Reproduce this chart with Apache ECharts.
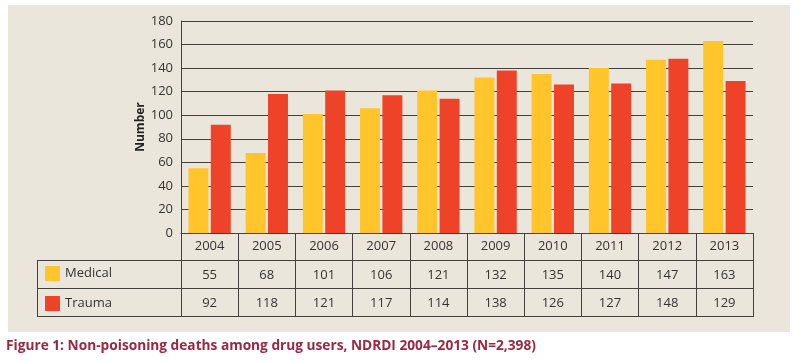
<!DOCTYPE html>
<html><head><meta charset="utf-8">
<script src="https://cdn.jsdelivr.net/npm/echarts@6/dist/echarts.min.js"></script>
<style>html,body{margin:0;padding:0;background:#fff;}#c{width:800px;height:362px;}</style>
</head><body><div id="c"></div>
<script>
const years = ['2004','2005','2006','2007','2008','2009','2010','2011','2012','2013'];
const medical = [55,68,101,106,121,132,135,140,147,163];
const trauma = [92,118,121,117,114,138,126,127,148,129];
const seriesNames = ['Medical','Trauma'];
const yMin = 0, yMax = 180, yStep = 20;
const caption = 'Figure 1: Non-poisoning deaths among drug users, NDRDI 2004–2013 (N=2,398)';

const FONT = '"Open Sans", "Noto Sans", sans-serif';
const LINE = '#43413c';
const chart = echarts.init(document.getElementById('c'), null, {renderer:'canvas'});
const G = {left:181, right:47, top:21, bottom:129};
const rowH = 28;
function tableAxis(data, offset){
  return {type:'category', data:data.map(String), position:'bottom', offset:offset,
    axisLine:{show:false}, axisTick:{show:false}, splitLine:{show:false},
    axisLabel:{color:'#333', fontSize:13, fontFamily:FONT, margin:8, interval:0}};
}
chart.setOption({
  backgroundColor:'#ffffff',
  animation:false,
  title:{text:caption, left:6, top:339, padding:[0,0,0,0], textStyle:{color:'#9B2743', fontSize:13.7, fontWeight:'bold', fontFamily:FONT}},
  legend:{orient:'vertical', left:45, top:266, padding:0, itemWidth:15, itemHeight:15, itemGap:15,
    icon:'rect', data:seriesNames, textStyle:{color:'#333', fontSize:13, fontFamily:FONT}, selectedMode:false},
  grid:G,
  xAxis:[
    {type:'category', data:years, position:'bottom',
      axisLine:{lineStyle:{color:LINE, width:1}},
      axisTick:{show:true, inside:false, length:84, lineStyle:{color:LINE, width:1}},
      axisLabel:{color:'#333', fontSize:13, fontFamily:FONT, margin:7, interval:0}},
    tableAxis(medical, rowH),
    tableAxis(trauma, rowH*2)
  ],
  yAxis:{type:'value', min:yMin, max:yMax, interval:yStep, name:'Number', nameLocation:'middle', nameGap:34,
    nameMoveOverlap:false,
    nameTextStyle:{color:'#222', fontSize:12, fontWeight:'bold', fontFamily:FONT},
    axisLine:{show:true, lineStyle:{color:LINE}}, axisTick:{show:false},
    axisLabel:{color:'#333', fontSize:13, fontFamily:FONT, margin:8},
    splitLine:{lineStyle:{color:LINE, width:1.2}}},
  series:[
    {name:seriesNames[0], type:'bar', data:medical, itemStyle:{color:'#FFC52A'}, barGap:'12%', barCategoryGap:'26%'},
    {name:seriesNames[1], type:'bar', data:trauma, itemStyle:{color:'#EE4229'}, barGap:'12%', barCategoryGap:'26%'}
  ]
});
const yBase = chart.convertToPixel({yAxisIndex:0}, 0);
const xRight = 800 - G.right;
const xL = 37;
const lines = [];
[1,2,3].forEach(i=>{
  const y = Math.round(yBase + rowH*i - 1) + 0.5;
  lines.push({type:'line', shape:{x1:xL, y1:y, x2:xRight, y2:y}, style:{stroke:LINE, lineWidth:1}});
});
lines.push({type:'line', shape:{x1:xL+0.5, y1:Math.round(yBase+rowH-1)+0.5, x2:xL+0.5, y2:Math.round(yBase+rowH*3-1)+0.5}, style:{stroke:LINE, lineWidth:1}});
chart.setOption({graphic:[
  {type:'rect', z:-10, shape:{x:8, y:5, width:782, height:327}, style:{fill:'#EAE6DB'}},
  ...lines
]});
</script></body></html>
